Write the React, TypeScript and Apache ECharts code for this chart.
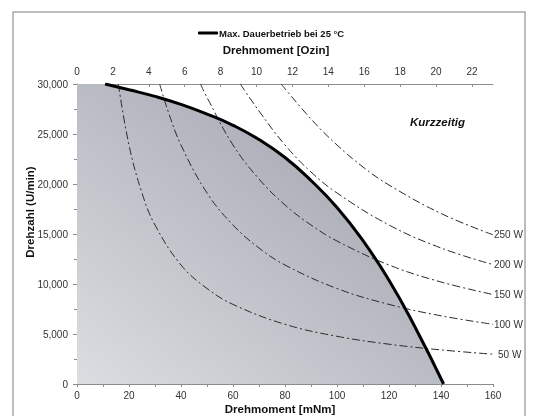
import React, { useEffect, useRef } from "react";
import * as echarts from "echarts";

const FONT = '"Liberation Sans", Arial, sans-serif';

// Max. Dauerbetrieb bei 25 °C  [mNm, U/min]
const maxCurve: [number, number][] = [
  [10.8, 30000], [20, 29420], [30, 28760], [40, 27960], [50, 26990],
  [60, 25870], [70, 24450], [80, 22650], [90, 20350], [100, 17650],
  [110, 14330], [120, 10380], [130, 5700], [141, 0],
];
const areaTopLeft: [number, number] = [0, 30000];

const p50: [number, number][] = [
  [15.9, 30000], [20, 23900], [25, 19100], [30, 15900], [40, 11900], [50, 9550],
  [60, 7960], [80, 5970], [100, 4770], [120, 3980], [140, 3410], [160, 2980],
];
const p100: [number, number][] = [
  [31.8, 30000], [35, 27300], [40, 23900], [50, 19100], [60, 15900], [70, 13600],
  [80, 11900], [100, 9550], [120, 7960], [140, 6820], [160, 5970],
];
const p150: [number, number][] = [
  [47.5, 30000], [50, 28650], [60, 23900], [70, 20500], [80, 17900], [90, 15900],
  [100, 14300], [120, 11900], [140, 10200], [160, 8950],
];
const p200: [number, number][] = [
  [62.8, 30000], [70, 27300], [80, 23900], [90, 21200], [100, 19100],
  [120, 15900], [140, 13600], [160, 11940],
];
const p250: [number, number][] = [
  [78.5, 30000], [90, 26500], [100, 23900], [110, 21700], [120, 19900],
  [140, 17050], [160, 14920],
];
const powerNames = ["50 W", "100 W", "150 W", "200 W", "250 W"];
const powerData = [p50, p100, p150, p200, p250];

const bottomTicks = { min: 0, max: 160, interval: 20 };
const topTicks = { min: 0, max: 23.17, interval: 2 };
const yTicks = { min: 0, max: 30000, interval: 5000 };

export default function App() {
  const ref = useRef<HTMLDivElement>(null);
  useEffect(() => {
    if (!ref.current) return;
    const chart = echarts.init(ref.current, undefined, { renderer: "svg" });
    const axisLabel = { color: "#333", fontSize: 10, fontFamily: FONT };
    const axisLine = { show: true, lineStyle: { color: "#8c8c8c", width: 1 } };
    const powerSeries = powerData.map((d, i) => ({
      type: "line",
      name: powerNames[i],
      data: d,
      smooth: 0.4,
      showSymbol: false,
      symbol: "none",
      silent: true,
      lineStyle: { color: "#2b2b2b", width: 1, type: [8, 3, 2, 3] },
      endLabel: {
        show: true,
        formatter: powerNames[i],
        distance: i === 0 ? 5 : 1,
        color: "#333",
        fontSize: 10,
        fontFamily: FONT,
      },
      z: 3,
    }));
    chart.setOption({
      animation: false,
      grid: { left: 77, right: 40, top: 84, bottom: 32 },
      legend: {
        top: 23,
        left: 193,
        data: [{ name: "Max. Dauerbetrieb bei 25 °C", icon: "roundRect" }],
        itemWidth: 20,
        itemHeight: 3,
        itemGap: 2,
        textStyle: { fontSize: 9.5, fontWeight: "bold", color: "#111", fontFamily: FONT, padding: [0, 0, 0, -4] },
      },
      xAxis: [
        {
          type: "value",
          position: "bottom",
          ...bottomTicks,
          axisLine,
          axisTick: { show: true, length: 3, lineStyle: { color: "#8c8c8c" } },
          minorTick: { show: true, splitNumber: 2, length: 3, lineStyle: { color: "#8c8c8c" } },
          splitLine: { show: false },
          axisLabel: { ...axisLabel, margin: 6 },
        },
        {
          type: "value",
          position: "top",
          ...topTicks,
          axisLine,
          axisTick: { show: true, inside: true, length: 3, lineStyle: { color: "#8c8c8c" } },
          splitLine: { show: false },
          axisLabel: {
            ...axisLabel,
            margin: 8,
            showMaxLabel: false,
            formatter: (v: number) => (Math.abs(v % 2) < 1e-6 ? String(v) : ""),
          },
        },
      ],
      yAxis: {
        type: "value",
        ...yTicks,
        axisLine,
        axisTick: { show: true, length: 4, lineStyle: { color: "#8c8c8c" } },
        minorTick: { show: true, splitNumber: 2, length: 3, lineStyle: { color: "#8c8c8c" } },
        splitLine: { show: false },
        axisLabel: {
          ...axisLabel,
          margin: 9,
          formatter: (v: number) => v.toLocaleString("en-US"),
        },
      },
      series: [
        {
          type: "line",
          name: "area",
          data: [areaTopLeft, ...maxCurve],
          smooth: 0.5,
          symbol: "none",
          silent: true,
          lineStyle: { width: 0, opacity: 0 },
          areaStyle: {
            opacity: 1,
            color: new echarts.graphic.LinearGradient(0, 1, 1, 0, [
              { offset: 0, color: "#dcdde1" },
              { offset: 1, color: "#989ca8" },
            ]),
          },
          z: 1,
        },
        ...powerSeries,
        {
          type: "line",
          name: "Max. Dauerbetrieb bei 25 °C",
          data: maxCurve,
          smooth: 0.5,
          symbol: "none",
          silent: true,
          itemStyle: { color: "#000" },
          lineStyle: { color: "#000", width: 3 },
          z: 4,
        },
      ],
      graphic: [
        {
          type: "rect",
          shape: { x: 13, y: 12, width: 512, height: 430 },
          style: { fill: "none", stroke: "#a8a8a8", lineWidth: 1.5 },
          silent: true,
          z: 0,
        },
        {
          type: "text",
          x: 276, y: 50,
          style: { text: "Drehmoment [Ozin]", textAlign: "center", textVerticalAlign: "middle", fontSize: 11.5, fontWeight: "bold", fontFamily: FONT, fill: "#111" },
        },
        {
          type: "text",
          x: 280, y: 409,
          style: { text: "Drehmoment [mNm]", textAlign: "center", textVerticalAlign: "middle", fontSize: 11.5, fontWeight: "bold", fontFamily: FONT, fill: "#111" },
        },
        {
          type: "text",
          x: 30, y: 212,
          rotation: Math.PI / 2,
          style: { text: "Drehzahl (U/min)", textAlign: "center", textVerticalAlign: "middle", fontSize: 11.5, fontWeight: "bold", fontFamily: FONT, fill: "#111" },
        },
        {
          type: "text",
          x: 410, y: 122,
          style: { text: "Kurzzeitig", textAlign: "left", textVerticalAlign: "middle", fontSize: 11.5, fontWeight: "bold", fontStyle: "italic", fontFamily: FONT, fill: "#111" },
        },
        {
          type: "text",
          x: 133, y: 335,
          style: { text: "Konstant", textAlign: "left", textVerticalAlign: "middle", fontSize: 11.5, fontWeight: "bold", fontStyle: "italic", fontFamily: FONT, fill: "#111" },
        },
      ],
    });
    return () => chart.dispose();
  }, []);
  return (
    <div
      ref={ref}
      style={{ position: "fixed", left: 0, top: 0, width: 533, height: 416 }}
    />
  );
}
